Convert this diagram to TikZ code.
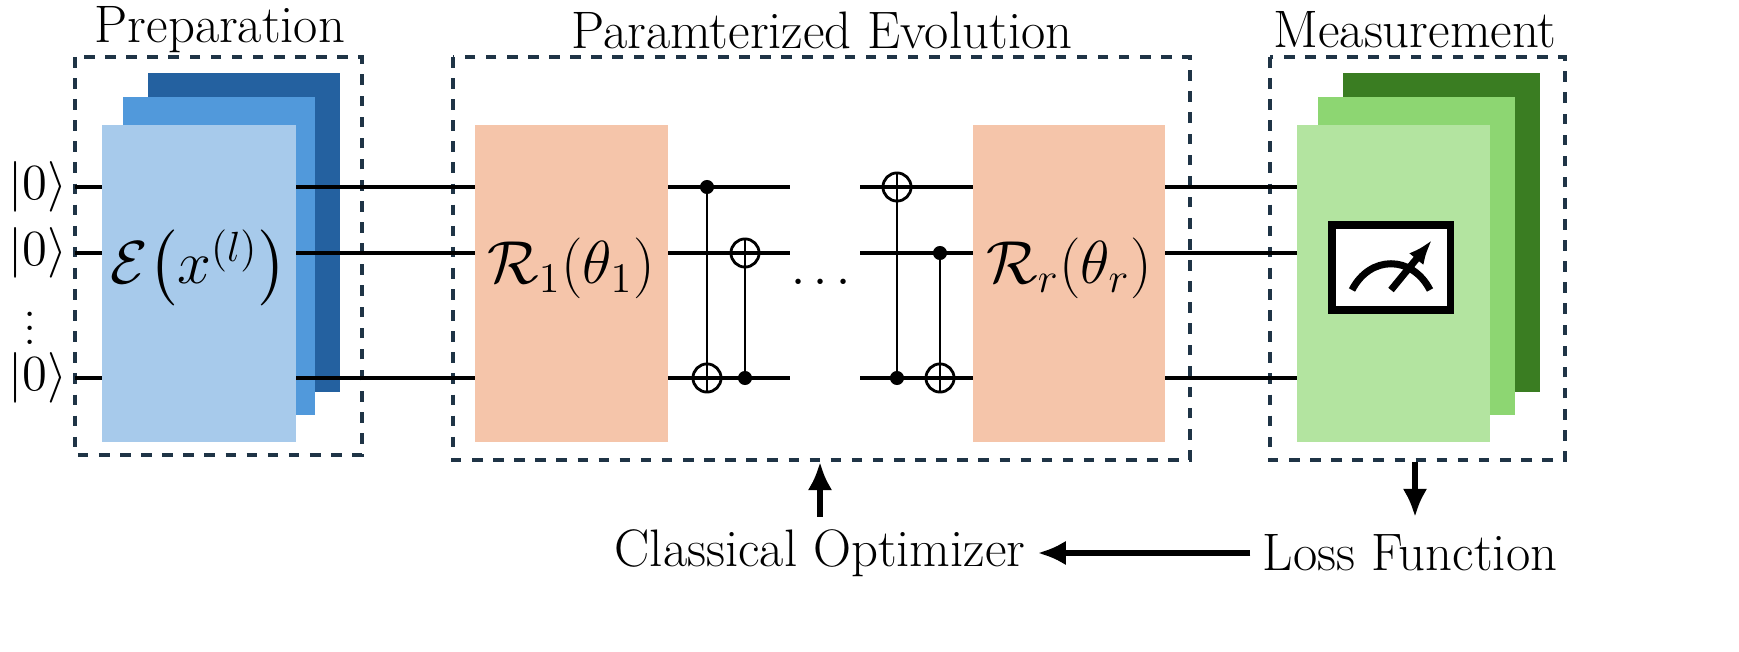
\documentclass[tikz,border=0pt]{standalone}
\usepackage{amsmath}
\usepackage{amssymb}
\usetikzlibrary{positioning,arrows.meta}
\definecolor{bluedark}{HTML}{2461A0}
\definecolor{bluemid}{HTML}{5199DB}
\definecolor{bluelight}{HTML}{A7CAEB}
\definecolor{greendark}{HTML}{3A7D22}
\definecolor{greenmid}{HTML}{8DD672}
\definecolor{greenlight}{HTML}{B3E4A0}
\definecolor{rotbox}{HTML}{F5C5AA}
\definecolor{frame}{HTML}{1F3446}
\tikzset{
  stage/.style={draw=frame, dashed, line width=0.9pt},
  wire/.style={line width=1pt},
  title/.style={font=\fontsize{15}{18}\selectfont},
  gate/.style={font=\fontsize{18}{22}\selectfont},
  ctrl/.style={circle, fill=black, inner sep=0pt, minimum size=4pt},
  targ/.style={circle, draw, line width=0.8pt, inner sep=0pt, minimum size=8pt},
  feed/.style={line width=1.5pt, -{Latex[length=8pt,width=7pt]}},
}
\begin{document}
\begin{tikzpicture}[x=0.01cm, y=-0.01cm, font=\fontsize{15}{18}\selectfont]
\useasboundingbox (0,0) rectangle (1739,652);
% stages
\draw[stage] (75,57) rectangle (362,455);
\draw[stage] (453,57) rectangle (1190,460);
\draw[stage] (1270,57) rectangle (1565,460);
\node[title] (prep) at (220,30) {Preparation};
\node[title] (evol) at (822,30) {Paramterized Evolution};
\node[title] (meas) at (1415,30) {Measurement};
% wires
\foreach \y in {187,253,378} {
  \draw[wire] (75,\y) -- (790,\y);
  \draw[wire] (860,\y) -- (1297,\y);
}
\node (k1) at (38,187) {$|0\rangle$};
\node (k2) at (38,253) {$|0\rangle$};
\node[inner sep=0pt] (kd) at (30,318) {$\vdots$};
\node (k3) at (38,378) {$|0\rangle$};
\node (dots) at (825,283) {$\cdots$};
% preparation stack
\fill[bluedark] (148,73) rectangle (340,392);
\fill[bluemid] (123,97) rectangle (315,415);
\fill[bluelight] (102,125) rectangle (296,442);
\draw[wire] (296,187) -- (340,187);
\draw[wire] (296,253) -- (340,253);
\draw[wire] (296,378) -- (340,378);
\node[gate] (enc) at (199,268) {$\mathcal{E}\big(x^{(l)}\big)$};
% rotations
\fill[rotbox] (475,125) rectangle (668,442);
\fill[rotbox] (973,125) rectangle (1165,442);
\node[gate] (r1) at (571,268) {$\mathcal{R}_1(\theta_1)$};
\node[gate] (rr) at (1069,268) {$\mathcal{R}_r(\theta_r)$};
% cnots
\node[ctrl] (c1) at (707,187) {};
\node[targ] (t1) at (707,378) {};
\node[targ] (t2) at (745,253) {};
\node[ctrl] (c2) at (745,378) {};
\node[targ] (t3) at (897,187) {};
\node[ctrl] (c3) at (897,378) {};
\node[ctrl] (c4) at (940,253) {};
\node[targ] (t4) at (940,378) {};
\foreach \a/\b in {c1/t1,t2/c2,t3/c3,c4/t4} \draw[line width=0.8pt] (\a.center) -- (\b.center);
\foreach \t in {t1,t2,t3,t4} \draw[line width=0.8pt] (\t.north) -- (\t.south) (\t.west) -- (\t.east);
% measurement stack
\fill[greendark] (1343,73) rectangle (1540,392);
\fill[greenmid] (1318,97) rectangle (1515,415);
\fill[greenlight] (1297,125) rectangle (1490,442);
\draw[fill=white, line width=2pt] (1332,225) rectangle (1450,310);
\draw[line width=2pt] (1352,290) .. controls (1370,255) and (1412,255) .. (1430,290);
\draw[line width=2pt, -{Latex[length=7pt]}] (1391,290) -- (1432,240);
% feedback
\node (opt) at (820,553) {Classical Optimizer};
\node (loss) at (1410,553) {Loss Function};
\coordinate (evb) at (820,462);
\coordinate (opb) at (820,517);
\coordinate (msb) at (1415,462);
\coordinate (lsb) at (1415,517);
\draw[feed] (opb) -- (evb);
\draw[feed] (msb) -- (lsb);
\draw[feed] (loss.west) -- (opt.east);
\end{tikzpicture}
\end{document}
